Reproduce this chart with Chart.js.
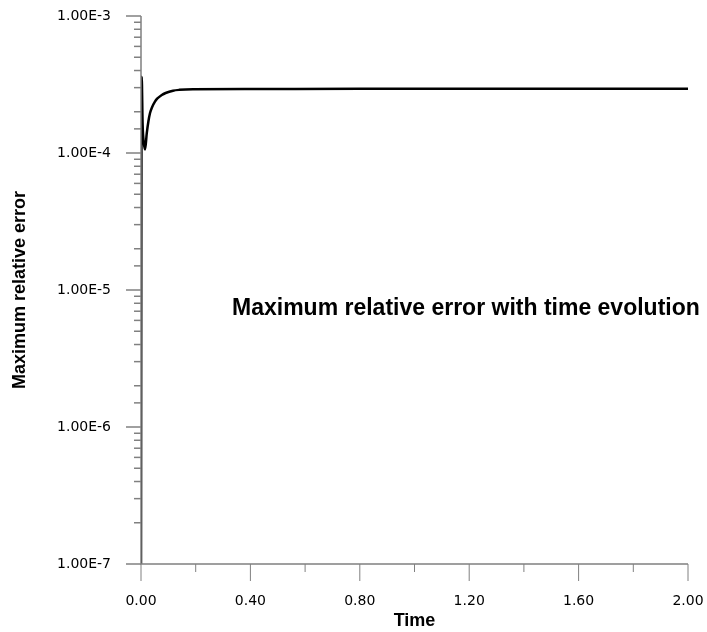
<!DOCTYPE html>
<html lang="en">
<head>
  <meta charset="UTF-8" />
  <title>Maximum relative error</title>
  <script src="https://cdn.jsdelivr.net/npm/chart.js@4.4.1/dist/chart.umd.min.js"></script>
  <style>
    html, body { margin: 0; padding: 0; background: #fff; }
    #wrap { width: 707px; height: 632px; }
  </style>
</head>
<body>
  <div id="wrap"><canvas id="chart" width="707" height="632"></canvas></div>

  <script>
    // values
    const times  = [0, 0.001, 0.0025, 0.006, 0.010, 0.015, 0.021, 0.027, 0.033, 0.040, 0.051, 0.060, 0.076, 0.090, 0.117, 0.14, 0.19, 0.40, 0.80, 1.20, 1.60, 2.00];
    const errors = [1e-7, 1e-5, 3.6e-4, 1.6e-4, 1.2e-4, 1.06e-4, 1.39e-4, 1.70e-4, 1.96e-4, 2.15e-4, 2.37e-4, 2.50e-4, 2.65e-4, 2.74e-4, 2.85e-4, 2.89e-4, 2.92e-4, 2.93e-4, 2.94e-4, 2.94e-4, 2.95e-4, 2.95e-4];
    const xLabelled = [0, 0.4, 0.8, 1.2, 1.6, 2.0];
    const yLabelled = [1e-7, 1e-6, 1e-5, 1e-4, 1e-3];
    const noteText = "Maximum relative error with time evolution";

    const FONT = "'Liberation Sans', Arial, sans-serif";
    const TICK_FONT = "'DejaVu Sans', sans-serif";
    const AXIS_GREY = "#808080";

    const near = (a, b) => Math.abs(a - b) < 1e-6 * Math.max(Math.abs(b), 1e-12);
    const isDecade = v => Math.abs(Math.log10(v) - Math.round(Math.log10(v))) < 1e-9;
    const isLabelledX = v => xLabelled.some(l => Math.abs(l - v) < 1e-6);

    // tick marks, axis lines and the note inside the plot
    const decor = {
      id: "decor",
      afterDraw(chart) {
        const ctx = chart.ctx;
        const a = chart.chartArea;
        const xs = chart.scales.x, ys = chart.scales.y;
        ctx.save();
        ctx.strokeStyle = AXIS_GREY;
        ctx.lineWidth = 1.5;

        ctx.beginPath();
        ctx.moveTo(a.left, a.top);
        ctx.lineTo(a.left, a.bottom);
        ctx.lineTo(a.right, a.bottom);
        ctx.stroke();

        ys.ticks.forEach(t => {
          const py = ys.getPixelForValue(t.value);
          const len = isDecade(t.value) ? 15 : 7;
          ctx.beginPath();
          ctx.moveTo(a.left - len, py);
          ctx.lineTo(a.left, py);
          ctx.stroke();
        });

        ctx.lineWidth = 1;
        xs.ticks.forEach(t => {
          const px = xs.getPixelForValue(t.value);
          const len = isLabelledX(t.value) ? 17 : 8;
          ctx.beginPath();
          ctx.moveTo(px, a.bottom);
          ctx.lineTo(px, a.bottom + len);
          ctx.stroke();
        });

        ctx.fillStyle = "#000";
        ctx.font = "bold 23px " + FONT;
        ctx.textAlign = "left";
        ctx.textBaseline = "alphabetic";
        ctx.fillText(noteText, 232, 315);
        ctx.restore();
      }
    };

    new Chart(document.getElementById("chart"), {
      type: "line",
      data: {
        datasets: [{
          data: times.map((t, i) => ({ x: t, y: errors[i] })),
          borderColor: "#000",
          borderWidth: 2.5,
          pointRadius: 0,
          cubicInterpolationMode: "monotone",
          fill: false
        }]
      },
      options: {
        responsive: false,
        animation: false,
        layout: { padding: { top: 16, right: 19, left: 0, bottom: 0 } },
        plugins: {
          legend: { display: false },
          tooltip: { enabled: false }
        },
        scales: {
          x: {
            type: "linear",
            min: 0,
            max: 2,
            grid: { display: false, drawTicks: false },
            border: { display: false },
            ticks: {
              stepSize: 0.2,
              autoSkip: false,
              maxRotation: 0,
              padding: 29,
              color: "#000",
              font: { family: TICK_FONT, size: 14 },
              callback: v => isLabelledX(v) ? v.toFixed(2) : ""
            },
            title: {
              display: true,
              text: "Time",
              color: "#000",
              font: { family: FONT, size: 18, weight: "bold" },
              padding: { top: 0, bottom: 0 }
            },
            afterFit: s => {
              s.height = 68;
              s.paddingLeft = 0;
              s.paddingRight = 0;
            }
          },
          y: {
            type: "logarithmic",
            min: 1e-7,
            max: 1e-3,
            grid: { display: false, drawTicks: false },
            border: { display: false },
            ticks: {
              autoSkip: false,
              padding: 30,
              color: "#000",
              font: { family: TICK_FONT, size: 14 },
              callback: v => yLabelled.some(l => near(v, l)) ? "1.00E" + Math.round(Math.log10(v)) : ""
            },
            title: {
              display: true,
              text: "Maximum relative error",
              color: "#000",
              font: { family: FONT, size: 18, weight: "bold" },
              padding: { top: 9, bottom: 0 }
            },
            afterFit: s => {
              s.width = 141;
              s.paddingTop = 0;
              s.paddingBottom = 0;
            }
          }
        }
      },
      plugins: [decor]
    });
  </script>
</body>
</html>
